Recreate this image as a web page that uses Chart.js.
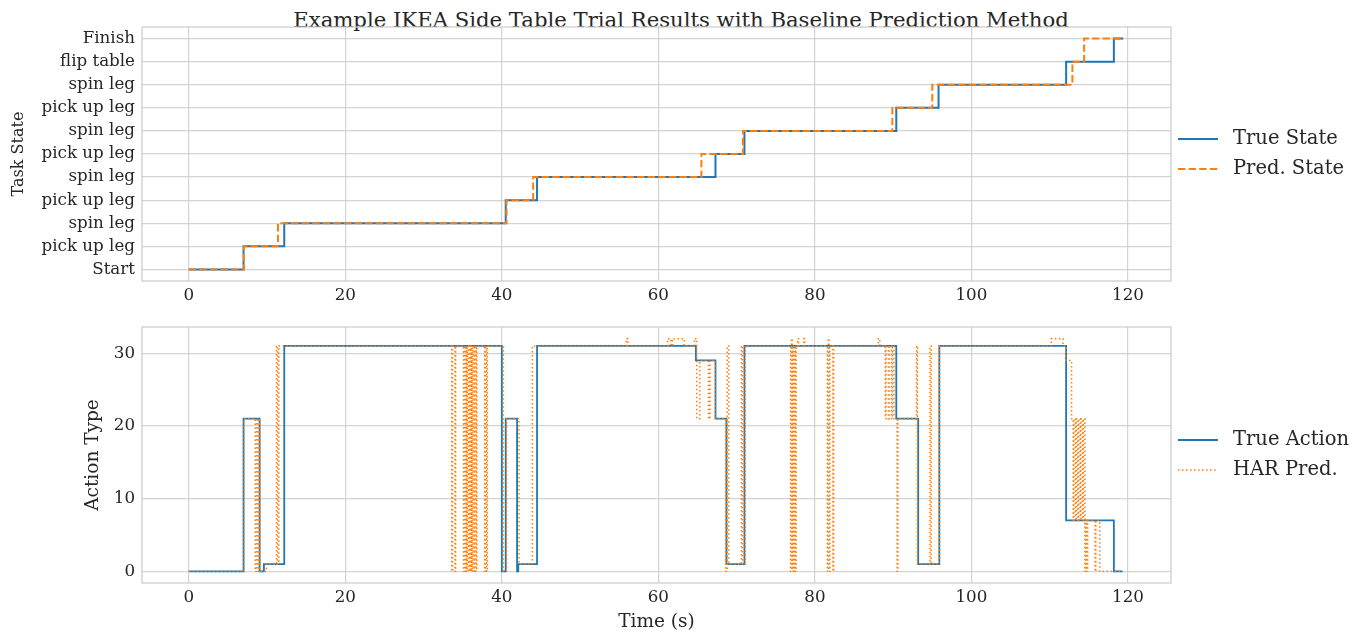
<!DOCTYPE html>
<html>
<head>
<meta charset="utf-8">
<script src="https://cdn.jsdelivr.net/npm/chart.js@4.4.0/dist/chart.umd.min.js"></script>
<style>
  body { margin: 0; background: #fff; width: 1359px; height: 635px; overflow: hidden; position: relative; }
  #title { position: absolute; left: 0; width: 1362px; top: 7px; line-height: 24px; text-align: center; font: 21.2px "DejaVu Serif", serif; color: #262626; }
  canvas { position: absolute; left: 0; }
  #topChart { top: 0; }
  #bottomChart { top: 300px; }
</style>
</head>
<body>
<div id="title">Example IKEA Side Table Trial Results with Baseline Prediction Method</div>
<canvas id="topChart" width="1359" height="300"></canvas>
<canvas id="bottomChart" width="1359" height="335"></canvas>
<script>
// 데이터
const stateLabels = ['Start', 'pick up leg', 'spin leg', 'pick up leg', 'spin leg', 'pick up leg',
    'spin leg', 'pick up leg', 'spin leg', 'flip table', 'Finish'];
const timeTicks = [0, 20, 40, 60, 80, 100, 120];
const actionTicks = [0, 10, 20, 30];

const trueStateTimes = [0, 7.0, 12.2, 40.5, 44.5, 67.3, 71.0, 90.4, 95.8, 112.1, 118.2, 119.4];
const trueStateValues = [0, 1, 2, 3, 4, 5, 6, 7, 8, 9, 10, 10];
const predStateTimes = [0, 7.05, 11.4, 40.6, 44.0, 65.5, 70.8, 89.9, 95.0, 112.9, 114.4, 119.4];
const predStateValues = [0, 1, 2, 3, 4, 5, 6, 7, 8, 9, 10, 10];

const trueActionTimes = [0, 7.0, 9.05, 9.6, 12.2, 40.0, 40.5, 41.95, 42.1, 44.5, 64.8, 67.3, 68.7,
    71.0, 90.4, 93.2, 95.9, 112.1, 118.2, 119.3];
const trueActionValues = [0, 21, 0, 1, 31, 0, 21, 0, 1, 31, 29, 21, 1,
    31, 21, 1, 31, 7, 0, 0];

const harTimes = [0, 7.05, 8.5, 8.65, 8.85, 9.0, 9.1, 9.9, 11.2, 11.35, 11.5,
    33.6, 33.7, 34.0, 34.1, 35.1, 35.2, 35.3, 35.4, 35.5, 35.6, 35.75, 35.9, 36.0, 36.1,
    36.2, 36.3, 36.45, 36.55, 36.7, 36.8, 37.8, 37.9, 38.05, 38.15,
    40.2, 40.6, 42.2, 43.9, 55.9, 56.1, 61.2, 61.6, 61.8, 63.3,
    64.6, 64.9, 65.3, 66.4, 66.6, 67.3, 68.6, 68.8, 69.0, 70.6, 70.75, 71.1,
    76.9, 77.0, 77.1, 77.2, 77.3, 77.4, 77.5, 77.6, 77.8, 77.9, 78.6, 78.7,
    81.6, 81.7, 81.8, 81.9, 82.3, 82.4,
    88.1, 88.3, 89.0, 89.1, 89.4, 89.5, 89.8, 89.9, 90.1, 90.5, 90.6,
    93.0, 93.1, 94.7, 94.85, 95.9,
    110.2, 111.7, 112.1, 112.8, 113.0, 113.1, 113.3, 113.4, 113.6, 113.7, 113.9, 114.0, 114.2, 114.3,
    114.5, 114.6, 114.75, 114.85, 115.8, 115.9, 116.4, 119.3];
const harValues = [0, 21, 0, 21, 0, 21, 0, 1, 31, 1, 31,
    0, 31, 0, 31, 0, 31, 0, 31, 0, 31, 0, 31, 0, 31,
    0, 31, 0, 31, 0, 31, 0, 31, 0, 31,
    0, 21, 1, 31, 32, 31, 32, 31, 32, 31,
    32, 21, 29, 21, 29, 21, 0, 31, 1, 31, 1, 31,
    0, 32, 0, 31, 0, 31, 0, 31, 32, 31, 32, 31,
    0, 32, 0, 31, 0, 31,
    32, 31, 21, 31, 21, 31, 21, 31, 21, 0, 21,
    31, 1, 31, 1, 31,
    32, 31, 29, 21, 7, 21, 7, 21, 7, 21, 7, 21, 7, 21,
    0, 7, 0, 7, 0, 7, 0, 0];

const blue = '#1f77b4';
const orange = '#ff7f0e';
const gridColor = '#d3d3d3';
const textColor = '#262626';
const serif = '"DejaVu Serif", serif';

function toPoints(times, values) {
    return times.map((t, i) => ({ x: t, y: values[i] }));
}

// 테두리 + 오른쪽 범례
const sideLegend = {
    id: 'sideLegend',
    beforeDatasetsDraw(chart) {
        const { ctx, chartArea: a } = chart;
        ctx.save();
        ctx.strokeStyle = '#cccccc';
        ctx.lineWidth = 1.25;
        ctx.strokeRect(a.left, a.top, a.right - a.left, a.bottom - a.top);
        ctx.restore();
    },
    afterDraw(chart) {
        const { ctx, chartArea: a } = chart;
        const mid = (a.top + a.bottom) / 2;
        ctx.save();
        chart.data.datasets.forEach((ds, i) => {
            const y = mid - 15 + i * 30;
            ctx.beginPath();
            ctx.strokeStyle = ds.borderColor;
            ctx.lineWidth = ds.borderWidth;
            ctx.setLineDash(ds.borderDash || []);
            ctx.moveTo(a.right + 7, y);
            ctx.lineTo(a.right + 47, y);
            ctx.stroke();
            ctx.setLineDash([]);
            ctx.fillStyle = textColor;
            ctx.font = '19.5px ' + serif;
            ctx.textBaseline = 'middle';
            ctx.fillText(ds.label, a.right + 62, y);
        });
        ctx.restore();
    }
};

function xScale(height, title) {
    return {
        type: 'linear',
        min: -5.975,
        max: 125.5,
        afterBuildTicks: ax => { ax.ticks = timeTicks.map(v => ({ value: v })); },
        afterFit: ax => { ax.height = height; },
        grid: { color: gridColor, lineWidth: 1.2, drawTicks: false },
        border: { display: false },
        ticks: { padding: 5, color: textColor, font: { family: serif, size: 16.7 } },
        title: {
            display: !!title,
            text: title,
            color: textColor,
            font: { family: serif, size: 18.5 },
            padding: { top: 0, bottom: 2 }
        }
    };
}

function yScale(min, max, ticks, title, titleSize, titlePad, callback) {
    return {
        type: 'linear',
        min: min,
        max: max,
        afterBuildTicks: ax => { ax.ticks = ticks.map(v => ({ value: v })); },
        afterFit: ax => { ax.width = 142; },
        grid: { color: gridColor, lineWidth: 1.2, drawTicks: false },
        border: { display: false },
        ticks: { padding: 7, autoSkip: false, color: textColor, font: { family: serif, size: 16.7 }, callback: callback },
        title: {
            display: true,
            text: title,
            color: textColor,
            font: { family: serif, size: titleSize },
            padding: { top: titlePad, bottom: 0 }
        }
    };
}

const commonPlugins = {
    legend: { display: false },
    tooltip: { enabled: false }
};

// 상단: 작업 상태
new Chart(document.getElementById('topChart'), {
    type: 'line',
    data: {
        datasets: [{
            label: 'True State',
            data: toPoints(trueStateTimes, trueStateValues),
            borderColor: blue,
            borderWidth: 2,
            stepped: true,
            pointRadius: 0,
            order: 1
        }, {
            label: 'Pred. State',
            data: toPoints(predStateTimes, predStateValues),
            borderColor: orange,
            borderWidth: 2,
            borderDash: [7.4, 3.2],
            stepped: true,
            pointRadius: 0,
            order: 0
        }]
    },
    options: {
        responsive: false,
        animation: false,
        devicePixelRatio: 1,
        layout: { padding: { top: 27, right: 188, left: 0, bottom: 0 } },
        plugins: commonPlugins,
        scales: {
            x: xScale(19, ''),
            y: yScale(-0.5, 10.5, stateLabels.map((_, i) => i), 'Task State', 16, 9.5, v => stateLabels[v])
        }
    },
    plugins: [sideLegend]
});

// 하단: 동작 유형
new Chart(document.getElementById('bottomChart'), {
    type: 'line',
    data: {
        datasets: [{
            label: 'True Action',
            data: toPoints(trueActionTimes, trueActionValues),
            borderColor: blue,
            borderWidth: 1.8,
            stepped: true,
            pointRadius: 0,
            order: 1
        }, {
            label: 'HAR Pred.',
            data: toPoints(harTimes, harValues),
            borderColor: orange,
            borderWidth: 1.5,
            borderDash: [1.5, 2.5],
            stepped: true,
            pointRadius: 0,
            order: 0
        }]
    },
    options: {
        responsive: false,
        animation: false,
        devicePixelRatio: 1,
        layout: { padding: { top: 27, right: 188, left: 0, bottom: 0 } },
        plugins: commonPlugins,
        scales: {
            x: xScale(52, 'Time (s)'),
            y: yScale(-1.6, 33.6, actionTicks, 'Action Type', 18.5, 82, v => v)
        }
    },
    plugins: [sideLegend]
});
</script>
</body>
</html>
